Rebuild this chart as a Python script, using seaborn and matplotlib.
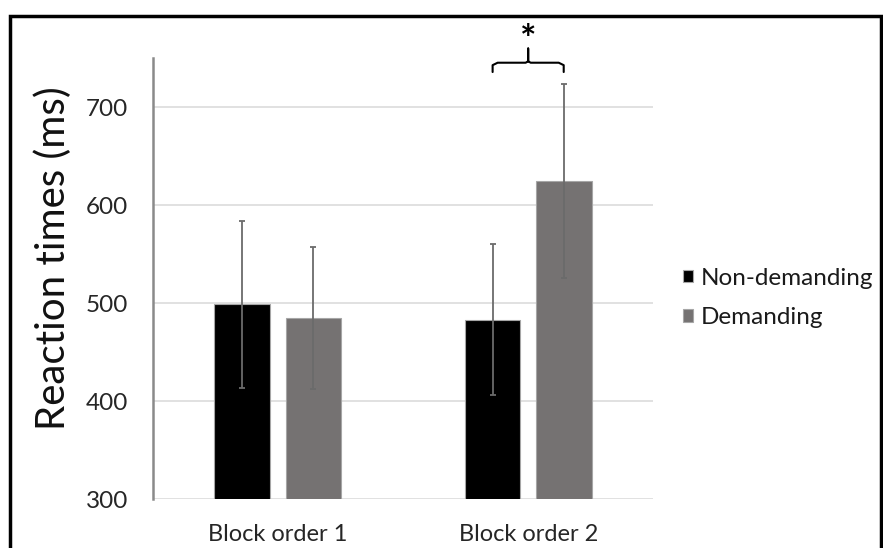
import pandas as pd
import seaborn as sns
import matplotlib.pyplot as plt
from matplotlib.patches import Rectangle

# values
blocks = ['Block order 1', 'Block order 2']
conditions = ['Non-demanding', 'Demanding']
non_demanding = [499, 483]
demanding = [485, 625]
err_non_demanding = [85, 77]
err_demanding = [72, 99]
y_ticks = [300, 400, 500, 600, 700]

df = pd.DataFrame({
    'block': blocks * 2,
    'condition': [conditions[0]] * 2 + [conditions[1]] * 2,
    'rt': non_demanding + demanding,
})
errs = err_non_demanding + err_demanding

sns.set_theme(style='white')
plt.rcParams['font.family'] = ['Lato', 'DejaVu Sans']

fig = plt.figure(figsize=(8.83, 5.48), dpi=100)
ax = fig.add_axes([0.1729, 0.0889, 0.567, 0.8047])

palette = {'Non-demanding': '#000000', 'Demanding': '#767171'}
sns.barplot(data=df, x='block', y='rt', hue='condition', order=blocks,
            hue_order=conditions, palette=palette, width=0.568, gap=0.218,
            errorbar=None, edgecolor='#a6a6a6', linewidth=0.8, ax=ax,
            zorder=2)

# error bars centred on the bars seaborn drew
bars = ax.patches[:4]
xs = [b.get_x() + b.get_width() / 2 for b in bars]
ys = [b.get_height() for b in bars]
ax.errorbar(xs, ys, yerr=errs, fmt='none', ecolor='#6b6b6b', elinewidth=1.3,
            capsize=2.2, capthick=1.3, zorder=3)

ax.set_ylim(300, 750)
ax.set_xlim(-0.5, 1.5)
ax.set_yticks(y_ticks)
ax.yaxis.grid(True, color='#d9d9d9', lw=1.1, zorder=0)
ax.set_axisbelow(True)
for s in ['top', 'right', 'bottom']:
    ax.spines[s].set_visible(False)
ax.spines['left'].set_color('#8a8a8a')
ax.spines['left'].set_linewidth(1.8)
ax.tick_params(axis='y', length=0, pad=17.5, labelsize=17.5, colors='#262626')
ax.tick_params(axis='x', length=0, pad=18, labelsize=17, colors='#262626')
ax.set_xlabel('')
ax.set_ylabel('Reaction times (ms)', fontsize=29, color='#111111')
ax.yaxis.set_label_coords(-0.162, 0.547)

# significance bracket over block order 2
x0, x1 = xs[1], xs[3]
xm = (x0 + x1) / 2
ax.plot([x0, x0, x0 + 0.02, xm - 0.01, xm, xm, xm, xm + 0.01, x1 - 0.02, x1, x1],
        [736, 743, 745.5, 745.5, 747, 760, 747, 745.5, 745.5, 743, 736],
        color='black', lw=1.5, clip_on=False)
ax.text(xm, 768, '*', ha='center', va='center', fontsize=28, fontweight='bold',
        color='black', clip_on=False)

leg = ax.legend(loc='center left', bbox_to_anchor=(0.749, 0.456),
                bbox_transform=fig.transFigure, frameon=False, fontsize=17.5,
                handlelength=0.42, handleheight=0.42, handletextpad=0.28,
                labelspacing=0.77)
for t in leg.get_texts():
    t.set_color('#1a1a1a')

# outer frame (bottom edge cut off in the original)
fig.add_artist(Rectangle((0.0113, -0.1), 0.9864, 1.0717, transform=fig.transFigure,
                         fill=False, edgecolor='black', lw=2.5))

fig.savefig('out.png', dpi=100)
